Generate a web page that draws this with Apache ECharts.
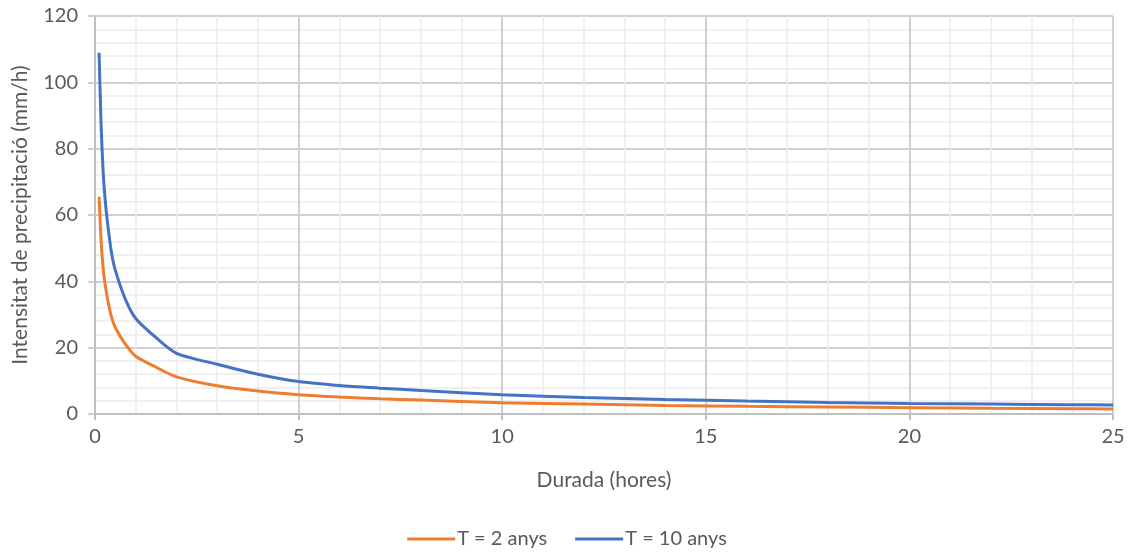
<!DOCTYPE html>
<html>
<head>
<meta charset="utf-8">
<script src="https://cdn.jsdelivr.net/npm/echarts@6/dist/echarts.min.js"></script>
<style>
html,body{margin:0;padding:0;background:#fff;}
#chart{width:1134px;height:553px;}
</style>
</head>
<body>
<div id="chart"></div>
<script>
const durations = [0.1, 0.15, 0.2, 0.25, 0.3, 0.4, 0.5, 0.75, 1, 1.5, 2, 3, 4, 5, 6, 7, 8, 10, 12, 14, 16, 18, 20, 22, 24, 25];
const t2Values = [65.5, 52, 44, 39, 35.2, 29.5, 26, 21, 17.4, 14.1, 11.2, 8.5, 6.9, 5.8, 5.1, 4.6, 4.2, 3.4, 3.0, 2.6, 2.3, 2.1, 1.9, 1.7, 1.6, 1.5];
const t10Values = [108.9, 87, 73, 64.5, 58.5, 49, 43.3, 34.5, 28.8, 23, 18.3, 15.0, 12.0, 9.8, 8.6, 7.8, 7.1, 5.8, 5.0, 4.4, 3.9, 3.5, 3.2, 3.0, 2.8, 2.7];
const seriesNames = ['T = 2 anys', 'T = 10 anys'];
const xTitle = 'Durada (hores)';
const yTitle = 'Intensitat de precipitació (mm/h)';

const font = 'Lato, "Open Sans", sans-serif';
const chart = echarts.init(document.getElementById('chart'));
chart.setOption({
  animation: false,
  textStyle: {fontFamily: font},
  grid: {left: 95, right: 21, top: 16, bottom: 139, containLabel: false, outerBoundsMode: 'none'},
  legend: {
    top: 524, left: 'center',
    icon: 'rect',
    itemWidth: 48, itemHeight: 3, itemGap: 28,
    textStyle: {fontSize: 20, color: '#595959', fontFamily: font, padding: [0, 0, 0, -3]},
    data: seriesNames
  },
  xAxis: {
    type: 'value', min: 0, max: 25, interval: 5,
    name: xTitle, nameLocation: 'middle', nameGap: 56,
    nameTextStyle: {fontSize: 21, color: '#595959'},
    axisLine: {show: true, lineStyle: {color: '#bfbfbf', width: 2}},
    axisTick: {show: true, length: 6, lineStyle: {color: '#bfbfbf', width: 2}},
    axisLabel: {fontSize: 20, color: '#595959', margin: 13},
    splitLine: {show: true, lineStyle: {color: '#d0d0d0', width: 2}},
    minorTick: {show: false, splitNumber: 5},
    minorSplitLine: {show: true, lineStyle: {color: '#ececec', width: 1.5}}
  },
  yAxis: {
    type: 'value', min: 0, max: 120, interval: 20,
    name: yTitle, nameLocation: 'middle', nameGap: 64,
    nameTextStyle: {fontSize: 21, color: '#595959'},
    axisLine: {show: true, lineStyle: {color: '#bfbfbf', width: 2}},
    axisTick: {show: true, length: 7, lineStyle: {color: '#d0d0d0', width: 2}},
    axisLabel: {fontSize: 20, color: '#595959', margin: 17},
    splitLine: {show: true, lineStyle: {color: '#d0d0d0', width: 2}},
    minorTick: {show: false, splitNumber: 5},
    minorSplitLine: {show: true, lineStyle: {color: '#ececec', width: 1.5}}
  },
  series: [
    {
      name: seriesNames[0], type: 'line', symbol: 'none', smooth: 0.25,
      data: durations.map((d, i) => [d, t2Values[i]]),
      lineStyle: {color: '#ED7D31', width: 3}, itemStyle: {color: '#ED7D31'}
    },
    {
      name: seriesNames[1], type: 'line', symbol: 'none', smooth: 0.25,
      data: durations.map((d, i) => [d, t10Values[i]]),
      lineStyle: {color: '#4472C4', width: 3}, itemStyle: {color: '#4472C4'}
    }
  ]
});
</script>
</body>
</html>
